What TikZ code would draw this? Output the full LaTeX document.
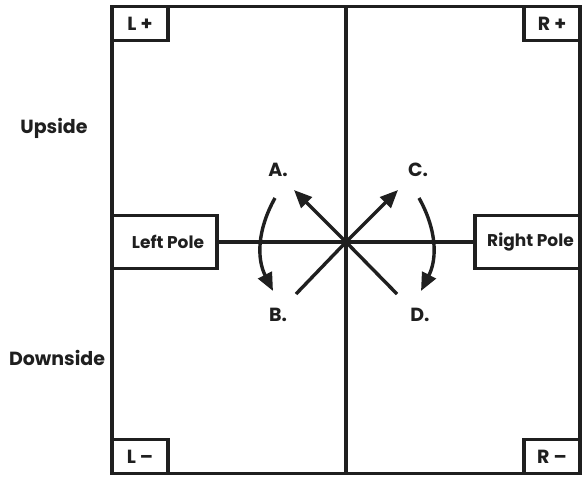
\documentclass[tikz,border=0pt]{standalone}
\usepackage{fontspec}
\setmainfont{Poppins}
\usepackage{tikz}
\usetikzlibrary{arrows.meta,positioning,calc}
\tikzset{
  frame/.style     = {draw, line width=3.6pt, rectangle, outer sep=0pt, inner sep=0pt},
  cornerbox/.style = {draw, line width=3.6pt, rectangle, outer sep=0pt,
                      minimum width=56pt, minimum height=34pt, align=center,
                      font=\bfseries\fontsize{19pt}{21pt}\selectfont},
  polebox/.style   = {draw, line width=3.6pt, rectangle, outer sep=0pt,
                      minimum width=105pt, minimum height=53pt, align=center,
                      font=\bfseries\fontsize{17pt}{19pt}\selectfont},
  sig/.style       = {-{Triangle[length=18pt,width=15pt]}, line width=3.4pt},
  wire/.style      = {line width=3.4pt},
}
\begin{document}
\begin{tikzpicture}[x=1pt,y=-1pt,font=\bfseries\fontsize{19pt}{21pt}\selectfont,color={black!88}]
\useasboundingbox[fill=white] (0,0) rectangle (588,477);
% outer field
\node[frame, minimum width=468pt, minimum height=467pt] (field) at (346,240) {};
\node[cornerbox, anchor=north west] (lplus) at (field.north west) {L +};
\node[cornerbox, anchor=north east] (rplus) at (field.north east) {R +};
\node[cornerbox, anchor=south west] (lminus) at (field.south west) {L \textendash};
\node[cornerbox, anchor=south east] (rminus) at (field.south east) {R \textendash};
% poles
\node[polebox, anchor=west] (lpole) at (field.west |- 0,242) {\hspace*{7pt}Left Pole};
\node[polebox, anchor=east] (rpole) at (field.east |- 0,242) {\hspace*{6pt}Right Pole};
\coordinate (ctr) at (field.north |- lpole.east);
\draw[wire] (field.north) -- (field.south);
\draw[wire] (lpole.east) -- (rpole.west);
% side labels
\node (up) at (54,128) {Upside};
\node (down) at (57,358) {Downside};
% directions
\node (a) at (278,170) {A.};
\node (b) at (278,315) {B.};
\node (c) at (418,170) {C.};
\node (d) at (420,315) {D.};
\coordinate (ne) at (398,190);
\coordinate (nw) at (294,190);
\coordinate (se) at (397,294);
\coordinate (sw) at (296,294);
\draw[sig] (ctr) -- (nw);
\draw[sig] (ctr) -- (ne);
\draw[wire] (ctr) -- (se);
\draw[wire] (ctr) -- (sw);
% rotation arcs
\coordinate (arcl) at (275,198);
\coordinate (arcl2) at (273,291);
\coordinate (arcr) at (419,198);
\coordinate (arcr2) at (421,291);
\draw[sig] (arcl) to[bend right=28] (arcl2);
\draw[sig] (arcr) to[bend left=28] (arcr2);
\end{tikzpicture}
\end{document}
